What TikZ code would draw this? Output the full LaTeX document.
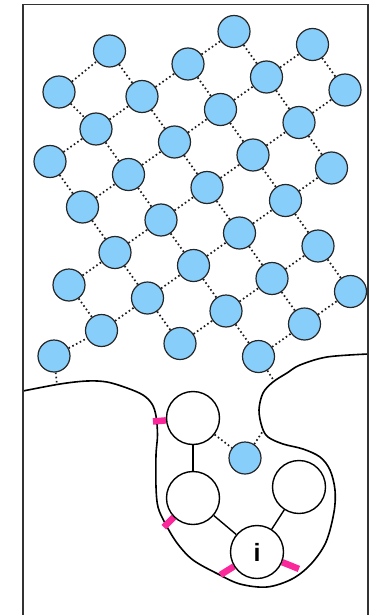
\documentclass[tikz,border=0pt]{standalone}
\usepackage{fontspec}
\setsansfont{Liberation Sans}
\usetikzlibrary{calc,backgrounds}
\definecolor{SiteBlue}{RGB}{135,206,250}
\definecolor{PortPink}{RGB}{250,40,155}

\begin{document}
\begin{tikzpicture}[
  x=1pt, y=-1pt,
  site/.style={circle, draw=black!85, line width=1.2pt, fill=SiteBlue, minimum size=32pt, inner sep=0pt},
  cell/.style={circle, draw=black, line width=1.4pt, fill=white, minimum size=53pt, inner sep=0pt,
               font=\sffamily\bfseries\fontsize{25}{27}\selectfont},
  bond/.style={line width=1.7pt, black!90, dash pattern=on 1.6pt off 2.6pt},
  link/.style={line width=1.4pt},
  wall/.style={line width=1.6pt, line join=round},
  port/.style={line width=6.5pt, PortPink},
]
\useasboundingbox (0,0) rectangle (370,615);

% ============ FRAME (open at the bottom) ============
\draw[line width=1.6pt, black!80] (23,625) -- (23,4.5) -- (368,4.5) -- (368,625);

% ============ LATTICE (rotated square grid) ============
\foreach \i/\j in {0/0,
    -2/1,-1/1,0/1,1/1,2/1,
    -2/2,-1/2,0/2,1/2,2/2,3/2,
    -3/3,-2/3,-1/3,0/3,1/3,2/3,3/3,
    -3/4,-2/4,-1/4,0/4,1/4,2/4,
    -2/5,-1/5,0/5,1/5,
    -1/6,0/6,1/6} {
  \pgfmathsetmacro\px{109.5+46*\i+32.5*\j}
  \pgfmathsetmacro\py{51-32.5*\i+45.5*\j}
  \node[site] (s\i-\j) at (\px,\py) {};
}
% two sites a little off the grid
\node[site] (s-1-0) at (59,92) {};
\node[site] (s-4-4) at (54,356) {};

% bonds along the rising direction
\foreach \i/\j in {-1/0, -2/1,-1/1,0/1,1/1, -2/2,-1/2,0/2,1/2,2/2,
    -3/3,-2/3,-1/3,0/3,1/3,2/3, -4/4,-3/4,-2/4,-1/4,0/4,1/4,
    -2/5,-1/5,0/5, -1/6,0/6} {
  \pgfmathtruncatemacro\k{\i+1}
  \draw[bond] (s\i-\j) -- (s\k-\j);
}
% bonds along the falling direction
\foreach \i/\j in {-1/0,-1/1,-1/2,-1/3,-1/4,-1/5, 0/0,0/1,0/2,0/3,0/4,0/5,
    -2/1,-2/2,-2/3,-2/4, 1/1,1/2,1/3,1/4,1/5, 2/1,2/2,2/3, 3/2, -3/3} {
  \pgfmathtruncatemacro\l{\j+1}
  \draw[bond] (s\i-\j) -- (s\i-\l);
}

% ============ CELL (pocket below the wall) ============
\node[cell] (wA) at (193,418) {};
\node[cell] (wB) at (193,498) {};
\node[cell] (wC) at (299,487) {};
\node[cell] (wI) at (257,552) {i};
\node[site] (bL) at (245,458) {};
\draw[link] (wA) -- (wB);
\draw[link] (wB) -- (wI);
\draw[link] (wC) -- (wI);
\draw[bond] (wA) -- (bL);

% bonds cut by the wall
\coordinate (cutL) at (57,385);
\coordinate (cutR) at (274,381);
\coordinate (cutB) at (263,431);
\draw[bond] (s-4-4) -- (cutL);
\draw[bond] (s-1-6) -- (cutR);
\draw[bond] (bL) -- (cutB);

% wall and contact marks
\begin{scope}[on background layer]
\draw[wall] plot[smooth, tension=0.55] coordinates {
  (23,391) (60,384) (87,381) (107,382) (127,388) (143,395) (152,404) (156,416)
  (157.5,435) (156,455) (156,487) (158,507) (165,523) (177,543) (193,560) (218,574)
  (240,584) (267,587) (292,579) (311,564) (326,542) (334,512) (335,490) (330,470)
  (320,457) (303,449) (283,444) (268,437) (262,427) (259,410) (263,393) (273,382)
  (287,373) (300,365) (327,357) (368,354)};
\draw[port] (wA.185) -- ($(wA.185)!-13pt!(wA.center)$);
\draw[port] (wB.225) -- ($(wB.225)!-14pt!(wB.center)$);
\draw[port] (wI.212) -- ($(wI.212)!-16pt!(wI.center)$);
\draw[port] (wI.338) -- ($(wI.338)!-18pt!(wI.center)$);
\end{scope}

\end{tikzpicture}
\end{document}
